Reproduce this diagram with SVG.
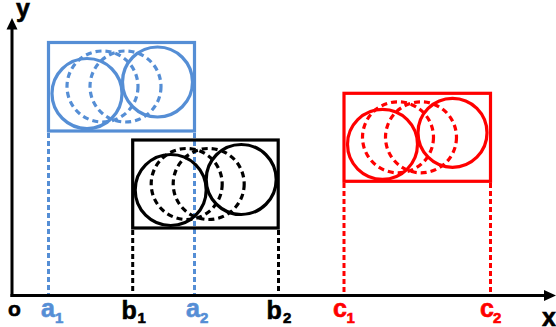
<svg xmlns="http://www.w3.org/2000/svg" width="556" height="327" viewBox="0 0 556 327">
<style>
.box{fill:none;stroke-width:3.2}
.c{fill:none;stroke-width:3.2}
.d{fill:none;stroke-width:3.2;stroke-dasharray:6 4}
.proj{fill:none;stroke-width:3;stroke-dasharray:5 3}
.blue{stroke:#558ED5}
.red{stroke:#FF0000}
.blk{stroke:#000}
text{font-family:"Liberation Sans",Arial,sans-serif;font-weight:bold;stroke-width:0.6}
.lb{font-size:25px}
.sub{font-size:15px}
.tb{fill:#558ED5;stroke:#558ED5}
.tr{fill:#FF0000;stroke:#FF0000}
.tk{fill:#000;stroke:#000}
</style>
<rect width="556" height="327" fill="#fff"/>
<g id="connectors">
<line x1="12" y1="297" x2="12" y2="28" stroke="#000" stroke-width="3"/>
<polygon points="12,18 6.5,29.5 17.5,29.5" fill="#000"/>
<line x1="10.5" y1="295.5" x2="545" y2="295.5" stroke="#000" stroke-width="3"/>
<polygon points="556,295.5 544,290 544,301" fill="#000"/>
<line class="proj blue" x1="48.5" y1="133" x2="48.5" y2="294"/>
<line class="proj blue" x1="194.5" y1="133" x2="194.5" y2="294"/>
<line class="proj blk" x1="132.7" y1="230" x2="132.7" y2="294"/>
<line class="proj blk" x1="278.5" y1="230" x2="278.5" y2="294"/>
<line class="proj red" x1="344" y1="183" x2="344" y2="294"/>
<line class="proj red" x1="490.5" y1="183" x2="490.5" y2="294"/>
</g>
<g id="box-a" transform="translate(48.5,42.5)">
<g class="blue"><rect class="box" x="0" y="0" width="146" height="88.5"/>
<circle class="c" cx="38.5" cy="51" r="35"/>
<circle class="d" cx="54" cy="44" r="35.5"/>
<circle class="d" cx="77" cy="44" r="35.5"/>
<circle class="c" cx="109" cy="39.5" r="35"/></g>
</g>
<g id="box-b" transform="translate(132.7,140)">
<g class="blk"><rect class="box" x="0" y="0" width="145.5" height="88"/>
<circle class="c" cx="38" cy="50" r="35.5"/>
<circle class="d" cx="54" cy="44" r="35.5"/>
<circle class="d" cx="76" cy="44" r="35.5"/>
<circle class="c" cx="108.5" cy="39.5" r="35"/></g>
</g>
<g id="box-c" transform="translate(344,93.3)">
<g class="red"><rect class="box" x="0" y="0" width="146.5" height="88"/>
<circle class="c" cx="38.5" cy="51" r="35"/>
<circle class="d" cx="54" cy="44" r="35.5"/>
<circle class="d" cx="77" cy="44" r="35.5"/>
<circle class="c" cx="108.5" cy="39.5" r="34.5"/></g>
</g>
<g id="labels">
<text class="lb tk" x="16" y="17">y</text>
<text class="lb tk" x="542" y="325.5">x</text>
<text class="tk" x="8" y="316" style="font-size:21px">o</text>
<text class="lb tb" x="41" y="317">a</text><text class="sub tb" x="55" y="323">1</text>
<text class="lb tk" x="121.5" y="319">b</text><text class="sub tk" x="137.5" y="323">1</text>
<text class="lb tb" x="186" y="317">a</text><text class="sub tb" x="200" y="323">2</text>
<text class="lb tk" x="266.5" y="319">b</text><text class="sub tk" x="283" y="323">2</text>
<text class="lb tr" x="333" y="317">c</text><text class="sub tr" x="346.5" y="323">1</text>
<text class="lb tr" x="480" y="317">c</text><text class="sub tr" x="493" y="323">2</text>
</g>
</svg>
